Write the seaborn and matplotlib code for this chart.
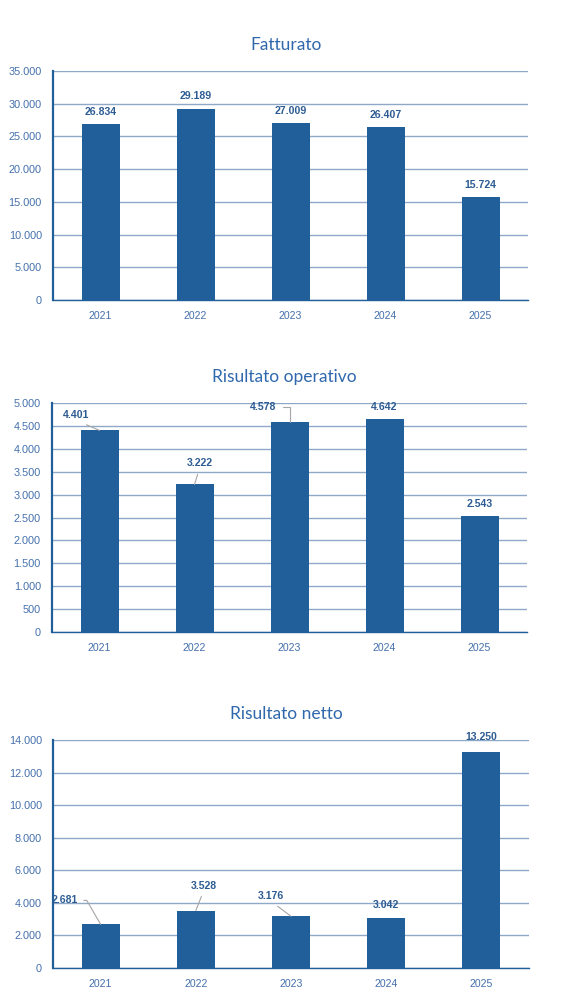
import matplotlib
matplotlib.use('Agg')
import matplotlib.pyplot as plt
import matplotlib.ticker as mticker
import seaborn as sns
import pandas as pd

sns.set_style('white')
plt.rcParams['font.family'] = ['Liberation Sans', 'DejaVu Sans']

anni = ['2021', '2022', '2023', '2024', '2025']
fatturato = [26834, 29189, 27009, 26407, 15724]
risultato_operativo = [4401, 3222, 4578, 4642, 2543]
risultato_netto = [2681, 3528, 3176, 3042, 13250]

titoli = ['Fatturato', 'Risultato operativo', 'Risultato netto']
y_max = [35000, 5000, 14000]
y_step = [5000, 500, 2000]

# spostamento etichette (pixel) e tipo di linea guida
offset_etichette = [
    [(0, 12, False), (0, 13, False), (0, 12, False), (0, 12, False), (0, 12, False)],
    [(-23, 15, True), (5, 21, True), (-26, 15, 'angolo'), (0, 12, False), (0, 12, False)],
    [(-36, 24, 'angolo2'), (8, 25, True), (-20, 20, True), (0, 13, False), (0, 15, False)],
]

colore_barre = '#215F9A'
colore_griglia = '#8EA9C8'
colore_tick = '#4470AC'
colore_etichette = '#2D5C93'
colore_titolo = '#2F68AC'

fig = plt.figure(figsize=(5.79, 10.06), dpi=100)
posizioni = [
    [53/579, 1 - 300/1006, 475/579, 229/1006],
    [52/579, 1 - 632/1006, 475/579, 229/1006],
    [53/579, 1 - 968/1006, 476/579, 228/1006],
]

serie = [fatturato, risultato_operativo, risultato_netto]

for i in range(3):
    ax = fig.add_axes(posizioni[i])
    df = pd.DataFrame({'anno': anni, 'valore': serie[i]})
    sns.barplot(data=df, x='anno', y='valore', color=colore_barre, width=0.4,
                saturation=1, linewidth=0, ax=ax, zorder=3)
    ax.set_xlim(-0.5, 4.5)
    ax.set_ylim(0, y_max[i])
    ax.yaxis.set_major_locator(mticker.MultipleLocator(y_step[i]))
    ax.yaxis.set_major_formatter(mticker.FuncFormatter(lambda v, p: f'{int(v):,}'.replace(',', '.')))
    ax.grid(axis='y', color=colore_griglia, linewidth=1.0, zorder=0)
    ax.set_axisbelow(True)
    ax.set_xlabel('')
    ax.set_ylabel('')
    for s in ['top', 'right']:
        ax.spines[s].set_visible(False)
    ax.spines['left'].set_color(colore_barre)
    ax.spines['left'].set_linewidth(1.6)
    ax.spines['bottom'].set_color(colore_barre)
    ax.spines['bottom'].set_linewidth(1.0)
    ax.set_xticks([x - 0.5 for x in range(6)], minor=True)
    ax.tick_params(axis='x', which='minor', length=4, width=1, color=colore_barre, direction='out')
    ax.tick_params(axis='x', which='major', length=0, pad=8, labelsize=7.6, labelcolor=colore_tick)
    ax.tick_params(axis='y', length=0, pad=8, labelsize=7.8, labelcolor=colore_tick)
    ax.set_title(titoli[i], fontsize=12.5, color=colore_titolo, pad=15, x=0.49,
                 family=['Lato', 'DejaVu Sans'])

    for j, v in enumerate(serie[i]):
        dx, dy, guida = offset_etichette[i][j]
        testo = f'{v:,}'.replace(',', '.')
        props = None
        if guida is True:
            props = dict(arrowstyle='-', color='#A6A6A6', lw=0.8, relpos=(0.5, 0),
                         shrinkA=2, shrinkB=0)
        elif guida == 'angolo':
            props = dict(arrowstyle='-', color='#A6A6A6', lw=0.8, relpos=(1, 0.5),
                         shrinkA=2, shrinkB=0,
                         connectionstyle='angle,angleA=0,angleB=90,rad=0')
        elif guida == 'angolo2':
            props = dict(arrowstyle='-', color='#A6A6A6', lw=0.8, relpos=(1, 0.5),
                         shrinkA=2, shrinkB=0,
                         connectionstyle='angle,angleA=0,angleB=120,rad=0')
        ax.annotate(testo, xy=(j, v), xytext=(dx, dy), textcoords='offset pixels',
                    ha='center', va='center', fontsize=7.6, fontweight='bold',
                    color=colore_etichette, arrowprops=props, zorder=5,
                    annotation_clip=False)

fig.savefig('out.png', dpi=100)
